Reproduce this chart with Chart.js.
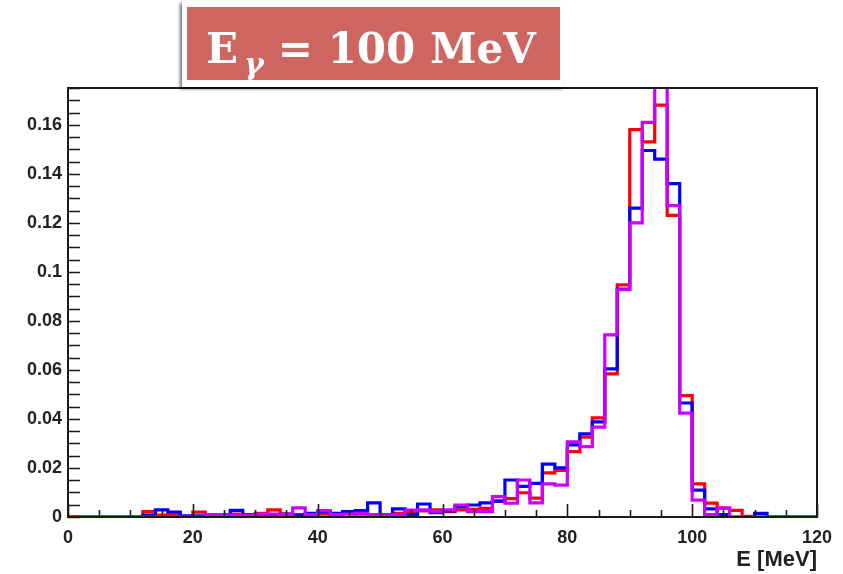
<!DOCTYPE html>
<html>
<head>
<meta charset="utf-8">
<script src="https://cdn.jsdelivr.net/npm/chart.js@4.4.1/dist/chart.umd.min.js"></script>
<style>
  body { margin: 0; background: #fff; }
  #wrap { position: relative; width: 843px; height: 574px; }
  #titulo {
    position: absolute; left: 182px; top: 1px; width: 382px; height: 86px;
    background: #fff; box-shadow: -2px 2px 3px rgba(0,0,0,0.55);
  }
  #titulo .caja {
    position: absolute; left: 5px; top: 6px; width: 373px; height: 73px;
    background: #cd6660;
  }
  #titulo .texto {
    position: absolute; left: 19px; top: 16px; white-space: nowrap;
    font-family: "DejaVu Serif", serif; font-weight: bold; font-size: 42px;
    color: #fff; line-height: 52px;
  }
  #titulo .sub { font-style: italic; font-size: 30px; position: relative; top: 11px; margin-left: 6px; margin-right: 14px; }
</style>
</head>
<body>
<div id="wrap">
  <canvas id="grafico" width="843" height="574"></canvas>
  <div id="titulo"><div class="caja"><div class="texto">E<span class="sub">γ</span>= 100 MeV</div></div></div>
</div>
<script>
// lower edges of the 2 MeV bins
const binEdges = [
  0, 2, 4, 6, 8, 10, 12, 14, 16, 18,
  20, 22, 24, 26, 28, 30, 32, 34, 36, 38,
  40, 42, 44, 46, 48, 50, 52, 54, 56, 58,
  60, 62, 64, 66, 68, 70, 72, 74, 76, 78,
  80, 82, 84, 86, 88, 90, 92, 94, 96, 98,
  100, 102, 104, 106, 108, 110, 112, 114, 116, 118
];
const lastEdge = 120;

const rojo = [
  0, 0, 0, 0, 0, 0, 0.0022, 0.0008, 0.0008, 0,
  0.002, 0.001, 0.0008, 0.0012, 0.001, 0.0015, 0.0029, 0.0012, 0.001, 0.0008,
  0.0012, 0.001, 0.0015, 0.0012, 0.0008, 0.001, 0.0015, 0.002, 0.0025, 0.0029,
  0.0022, 0.0029, 0.0031, 0.0035, 0.0065, 0.0075, 0.0099, 0.0077, 0.018, 0.019,
  0.0267, 0.0326, 0.0404, 0.0584, 0.0947, 0.158, 0.153, 0.168, 0.123, 0.0495,
  0.0135, 0.0057, 0.0036, 0.0027, 0.0003, 0, 0, 0, 0, 0
];
const azul = [
  0, 0, 0, 0, 0, 0, 0.0008, 0.0029, 0.002, 0.0005,
  0.0005, 0.0005, 0.0008, 0.0027, 0.001, 0.0008, 0.001, 0.0012, 0.0008, 0.0015,
  0.0022, 0.0015, 0.0022, 0.0026, 0.0058, 0.0005, 0.0033, 0.001, 0.0053, 0.0018,
  0.0025, 0.0042, 0.0049, 0.0058, 0.0065, 0.0151, 0.0125, 0.0137, 0.0216, 0.02,
  0.0294, 0.0339, 0.0388, 0.0604, 0.093, 0.126, 0.1495, 0.146, 0.136, 0.0465,
  0.011, 0.0033, 0.001, 0, 0, 0.0015, 0, 0, 0, 0
];
const magenta = [
  0, 0, 0, 0, 0, 0, 0, 0, 0, 0,
  0, 0.001, 0.0008, 0.0008, 0.0008, 0.0012, 0.0012, 0.001, 0.0037, 0.001,
  0.0026, 0.001, 0.0012, 0.0015, 0.001, 0.0005, 0.001, 0.0028, 0.0029, 0.0022,
  0.0029, 0.0049, 0.0022, 0.0022, 0.0083, 0.0056, 0.0151, 0.0058, 0.0135, 0.013,
  0.0307, 0.0287, 0.0367, 0.0743, 0.0927, 0.12, 0.161, 0.185, 0.127, 0.0424,
  0.0069, 0.001, 0.0036, 0, 0, 0, 0, 0, 0, 0
];

const xTicks = [0, 20, 40, 60, 80, 100, 120];
const xTickLabels = ["0", "20", "40", "60", "80", "100", "120"];
const yTicks = [0, 0.02, 0.04, 0.06, 0.08, 0.1, 0.12, 0.14, 0.16];
const yTickLabels = ["0", "0.02", "0.04", "0.06", "0.08", "0.1", "0.12", "0.14", "0.16"];
const yMax = 0.175;
const xMinorStep = 5;
const yMinorStep = 0.005;

// histogram as a stepped line: each bin value holds until the next edge
function histograma(valores) {
  const puntos = binEdges.map((e, i) => ({ x: e, y: valores[i] }));
  puntos.push({ x: lastEdge, y: 0 });
  return puntos;
}

function serie(valores, color, orden) {
  return {
    data: histograma(valores),
    borderColor: color,
    borderWidth: 3.2,
    stepped: "before",
    pointRadius: 0,
    fill: false,
    borderJoinStyle: "miter",
    borderCapStyle: "butt",
    order: orden,
  };
}

// frame and inward ticks, ROOT style
const marco = {
  id: "marco",
  afterDatasetsDraw(chart) {
    const ctx = chart.ctx;
    const a = chart.chartArea;
    const xs = chart.scales.x;
    const ys = chart.scales.y;
    ctx.save();
    ctx.strokeStyle = "#1a1a1a";
    ctx.lineWidth = 1.6;
    ctx.beginPath();
    for (let v = 0; v <= lastEdge + 1e-9; v += xMinorStep) {
      const px = Math.round(xs.getPixelForValue(v)) + 0.5;
      const largo = xTicks.includes(v) ? 13 : 7;
      ctx.moveTo(px, a.bottom);
      ctx.lineTo(px, a.bottom - largo);
    }
    for (let k = 0; k * yMinorStep <= yMax + 1e-9; k++) {
      const py = Math.round(ys.getPixelForValue(k * yMinorStep)) + 0.5;
      ctx.moveTo(a.left, py);
      ctx.lineTo(a.left + 12, py);
    }
    ctx.stroke();
    ctx.lineWidth = 2;
    ctx.strokeRect(a.left, a.top, a.right - a.left, a.bottom - a.top);
    ctx.fillStyle = "#222";
    ctx.font = "bold 22px 'Liberation Sans', Arial, sans-serif";
    ctx.textAlign = "right";
    ctx.textBaseline = "alphabetic";
    ctx.fillText("E [MeV]", a.right, 566);
    ctx.restore();
  },
};

const ctx = document.getElementById("grafico");

new Chart(ctx, {
  type: "line",
  data: {
    datasets: [
      serie(rojo, "#ff0000", 2),
      serie(azul, "#0000ff", 1),
      serie(magenta, "#cc00ff", 0),
    ],
  },
  options: {
    responsive: false,
    animation: false,
    layout: { padding: { left: 0, right: 26, top: 88, bottom: 0 } },
    plugins: { legend: { display: false }, tooltip: { enabled: false } },
    scales: {
      x: {
        type: "linear",
        min: 0,
        max: lastEdge,
        grid: { display: false, drawTicks: false },
        border: { display: false },
        afterBuildTicks: (s) => { s.ticks = xTicks.map((v) => ({ value: v })); },
        afterFit: (s) => { s.height = 57; },
        ticks: {
          maxRotation: 0,
          autoSkip: false,
          padding: 10,
          color: "#222",
          font: { family: "'Liberation Sans', Arial, sans-serif", size: 18, weight: "bold" },
          callback: (v, i) => xTickLabels[i],
        },
      },
      y: {
        min: 0,
        max: yMax,
        grid: { display: false, drawTicks: false },
        border: { display: false },
        afterBuildTicks: (s) => { s.ticks = yTicks.map((v) => ({ value: v })); },
        afterFit: (s) => { s.width = 68; },
        ticks: {
          padding: 6,
          color: "#222",
          font: { family: "'Liberation Sans', Arial, sans-serif", size: 18, weight: "bold" },
          callback: (v, i) => yTickLabels[i],
        },
      },
    },
  },
  plugins: [marco],
});
</script>
</body>
</html>
